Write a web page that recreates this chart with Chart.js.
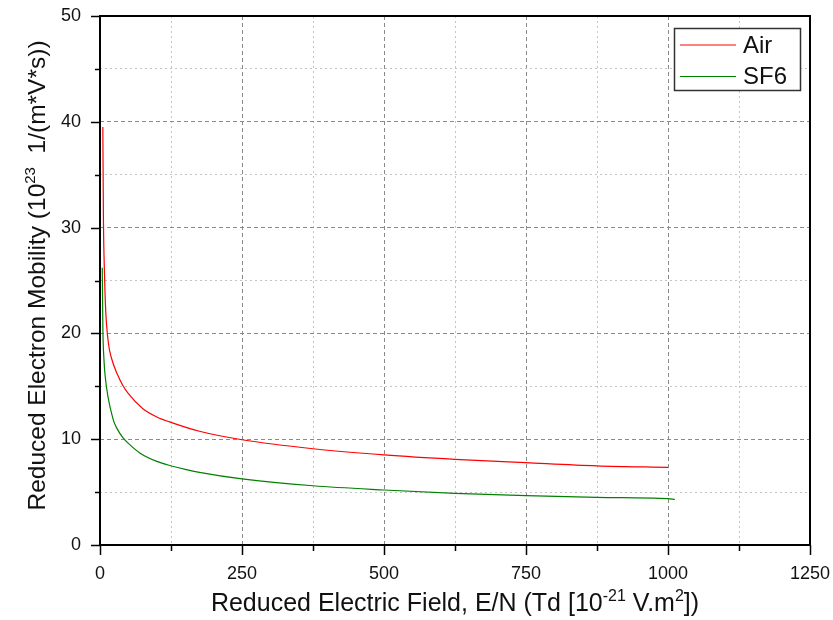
<!DOCTYPE html>
<html>
<head>
<meta charset="utf-8">
<script src="https://cdn.jsdelivr.net/npm/chart.js@4"></script>
<style>
  body { margin: 0; background: #fff; }
  #wrap { width: 833px; height: 620px; position: relative; }
</style>
</head>
<body>
<div id="wrap"><canvas id="myChart"></canvas></div>
<script>
// values
let airField = [5, 6, 8, 10, 15, 20, 30, 40, 50, 75, 100, 130, 175, 250, 375, 500, 625, 750, 875, 1000];
let airMobility = [39.5, 31.0, 25.5, 22.2, 19.0, 17.7, 16.2, 15.1, 14.3, 12.9, 12.1, 11.5, 10.75, 9.95, 9.1, 8.52, 8.1, 7.78, 7.48, 7.34];

let sf6Field = [4, 5, 7, 9, 23, 30, 41, 50, 70, 100, 126, 150, 175, 250, 375, 500, 625, 750, 875, 1000, 1012];
let sf6Mobility = [26.2, 20.6, 17.5, 16.0, 11.9, 11.0, 10.1, 9.6, 8.7, 7.9, 7.47, 7.15, 6.87, 6.25, 5.6, 5.2, 4.88, 4.66, 4.5, 4.38, 4.32];

let seriesNames = ['Air', 'SF6'];
let seriesColors = ['#ff0000', '#008000'];

let xMin = 0, xMax = 1250, xMajor = 250, xMinor = 125;
let yMin = 0, yMax = 50, yMajor = 10, yMinor = 5;

let xTitle = [['Reduced Electric Field, E/N (Td [10', false], ['-21', true], [' V.m', false], ['2', true], ['])', false]];
let yTitle = [['Reduced Electron Mobility (10', false], ['23', true], ['  1/(m*V*s))', false]];

const FONT = 'Arial, "Liberation Sans", sans-serif';
const TEXT = '#111';

function pts(xs, ys) {
    return xs.map((x, i) => ({ x: x, y: ys[i] }));
}

function isMajor(v, step) {
    return Math.abs(v / step - Math.round(v / step)) < 1e-6;
}

// draw a line of text with superscripts, centered on cx
function drawRich(ctx, parts, cx, cy, size) {
    let supSize = Math.round(size * 0.62);
    let w = 0;
    parts.forEach(p => {
        ctx.font = (p[1] ? supSize : size) + 'px ' + FONT;
        w += ctx.measureText(p[0]).width;
    });
    let x = cx - w / 2;
    ctx.textAlign = 'left';
    ctx.textBaseline = 'alphabetic';
    parts.forEach(p => {
        ctx.font = (p[1] ? supSize : size) + 'px ' + FONT;
        ctx.fillText(p[0], x, p[1] ? cy - size * 0.4 : cy);
        x += ctx.measureText(p[0]).width;
    });
}

const decor = {
    id: 'decor',
    afterDraw(chart) {
        const ctx = chart.ctx;
        const a = chart.chartArea;
        const xs = chart.scales.x, ys = chart.scales.y;
        ctx.save();
        ctx.strokeStyle = '#000';

        // tick marks
        ctx.lineWidth = 1.5;
        for (let v = xMin; v <= xMax; v += xMinor) {
            let px = Math.round(xs.getPixelForValue(v)) + 0.5;
            let len = isMajor(v, xMajor) ? 10 : 6;
            ctx.beginPath(); ctx.moveTo(px, a.bottom); ctx.lineTo(px, a.bottom + len); ctx.stroke();
        }
        for (let v = yMin; v <= yMax; v += yMinor) {
            let py = Math.round(ys.getPixelForValue(v)) + 0.5;
            let len = isMajor(v, yMajor) ? 9 : 5;
            ctx.beginPath(); ctx.moveTo(a.left, py); ctx.lineTo(a.left - len, py); ctx.stroke();
        }

        // frame
        ctx.lineWidth = 2;
        ctx.strokeRect(a.left, a.top, a.right - a.left, a.bottom - a.top);

        // legend
        let lx = 674.5, ly = 28.5, lw = 126, lh = 62;
        ctx.fillStyle = '#fff';
        ctx.fillRect(lx, ly, lw, lh);
        ctx.lineWidth = 1.5;
        ctx.strokeStyle = '#333';
        ctx.strokeRect(lx, ly, lw, lh);
        chart.data.datasets.forEach((ds, i) => {
            let yy = ly + 16.5 + i * 31.5;
            ctx.strokeStyle = ds.borderColor;
            ctx.lineWidth = 1;
            ctx.beginPath(); ctx.moveTo(680, yy); ctx.lineTo(736, yy); ctx.stroke();
            ctx.fillStyle = TEXT;
            ctx.font = '24px ' + FONT;
            ctx.textAlign = 'left';
            ctx.textBaseline = 'middle';
            ctx.fillText(ds.label, 743, yy + 1);
        });

        // axis titles
        ctx.fillStyle = TEXT;
        drawRich(ctx, xTitle, (a.left + a.right) / 2, 611, 25);
        ctx.save();
        ctx.translate(45, (a.top + a.bottom) / 2 - 5);
        ctx.rotate(-Math.PI / 2);
        drawRich(ctx, yTitle, 0, 0, 24.5);
        ctx.restore();

        ctx.restore();
    }
};

let myChart = document.getElementById('myChart').getContext('2d');

let chart = new Chart(myChart, {
    type: 'line',
    data: {
        datasets: [{
            label: seriesNames[0],
            data: pts(airField, airMobility),
            borderColor: seriesColors[0],
            backgroundColor: seriesColors[0],
            borderWidth: 1.2,
            pointRadius: 0,
            cubicInterpolationMode: 'monotone',
            fill: false
        }, {
            label: seriesNames[1],
            data: pts(sf6Field, sf6Mobility),
            borderColor: seriesColors[1],
            backgroundColor: seriesColors[1],
            borderWidth: 1.2,
            pointRadius: 0,
            cubicInterpolationMode: 'monotone',
            fill: false
        }]
    },
    options: {
        responsive: true,
        maintainAspectRatio: false,
        animation: false,
        layout: { padding: { left: 0, top: 16, right: 23, bottom: 0 } },
        plugins: {
            legend: { display: false },
            tooltip: { enabled: false }
        },
        scales: {
            x: {
                type: 'linear',
                min: xMin,
                max: xMax,
                afterFit: s => { s.height = 75; },
                ticks: {
                    stepSize: xMinor,
                    padding: 0,
                    color: TEXT,
                    font: { size: 18, family: FONT },
                    maxRotation: 0,
                    autoSkip: false,
                    callback: v => isMajor(v, xMajor) ? v : ''
                },
                grid: {
                    drawTicks: true,
                    tickLength: 18,
                    tickColor: 'rgba(0,0,0,0)',
                    lineWidth: 1,
                    color: c => isMajor(c.tick.value, xMajor) ? '#8a8a8a' : '#c4c4c4'
                },
                border: {
                    display: false,
                    dash: c => c.tick && isMajor(c.tick.value, xMajor) ? [4, 3] : [2, 3]
                }
            },
            y: {
                type: 'linear',
                min: yMin,
                max: yMax,
                afterFit: s => { s.width = 100; },
                ticks: {
                    stepSize: yMinor,
                    padding: 0,
                    color: TEXT,
                    font: { size: 18, family: FONT },
                    autoSkip: false,
                    callback: v => isMajor(v, yMajor) ? v : ''
                },
                grid: {
                    drawTicks: true,
                    tickLength: 19,
                    tickColor: 'rgba(0,0,0,0)',
                    lineWidth: 1,
                    color: c => isMajor(c.tick.value, yMajor) ? '#8a8a8a' : '#c4c4c4'
                },
                border: {
                    display: false,
                    dash: c => c.tick && isMajor(c.tick.value, yMajor) ? [4, 3] : [2, 3]
                }
            }
        }
    },
    plugins: [decor]
});
</script>
</body>
</html>
